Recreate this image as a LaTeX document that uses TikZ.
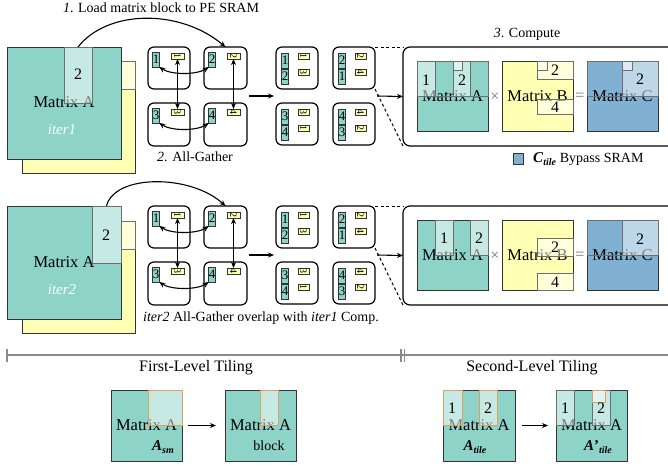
\documentclass[tikz,border=0pt]{standalone}
\usepackage{fontspec}
\setmainfont{Liberation Serif}
\usepackage{graphicx}
\usetikzlibrary{arrows.meta}
\definecolor{mteal}{HTML}{8DD3C7}
\definecolor{myel}{HTML}{FFFFB3}
\definecolor{mblue}{HTML}{80B1D3}
\definecolor{morange}{HTML}{DDA060}
\definecolor{mline}{HTML}{333333}
\definecolor{mgrayline}{HTML}{6E6E6E}
\definecolor{mscale}{HTML}{8A8A8A}
\newcommand\rect[6]{\node[inner sep=0pt,outer sep=0pt,minimum width={(#5)-(#3)},minimum height={(#6)-(#4)},#1] (#2) at ({((#3)+(#5))/2},{((#4)+(#6))/2})}
\newcommand\fs[1]{\fontsize{#1}{#1}\selectfont}
\newcommand\tnum[1]{\fs{13}#1}
\newcommand\ynum[1]{\rotatebox[origin=c]{-90}{\fs{10}#1}}
\newcommand\tealt[4]{\rect{tealtile}{#1}{#2}{#3}{#2+6}{#3+15}{\tnum{#4}};}
\newcommand\yelt[5]{\rect{yeltile}{#1}{#2}{#3}{#2+#4}{#3+6}{\ynum{#5}};}
\tikzset{
  mat/.style={draw=mline, line width=1pt},
  ovl/.style={fill=white, fill opacity=0.5, draw=mgrayline, line width=0.9pt},
  ovlo/.style={fill=white, fill opacity=0.5, draw=morange, line width=1pt},
  half/.style={draw=mgrayline, line width=0.9pt},
  pebox/.style={draw=black, line width=1.2pt, rounded corners=6pt},
  tealtile/.style={fill=mteal, draw=mline, line width=0.8pt},
  yeltile/.style={fill=myel, draw=mline, line width=0.8pt},
  arr/.style={-{Stealth[length=6pt,width=5pt]}, line width=1.1pt},
  darr/.style={{Stealth[length=6pt,width=5pt]}-{Stealth[length=6pt,width=5pt]}, line width=1.1pt},
  captxt/.style={font=\fs{14}, inner sep=0pt},
  lbl/.style={font=\fs{16}, inner sep=0pt},
  mlbl/.style={font=\fs{16.5}, inner sep=0pt},
  opsym/.style={font=\fs{16}, text=black!55, inner sep=0pt},
  dsh/.style={dash pattern=on 3pt off 2.5pt, line width=1pt},
  scl/.style={draw=mscale, line width=1.2pt},
}
\newcommand\pegrids[1]{%
  \rect{pebox}{a1#1}{148}{47}{190}{89}{};
  \rect{pebox}{a2#1}{204}{47}{247}{89}{};
  \rect{pebox}{a3#1}{148}{103}{190}{146}{};
  \rect{pebox}{a4#1}{204}{103}{247}{146}{};
  \tealt{ta1#1}{153}{52}{1}\yelt{ya1#1}{171}{53}{13}{1}
  \tealt{ta2#1}{209}{52}{2}\yelt{ya2#1}{227}{53}{13}{2}
  \tealt{ta3#1}{153}{108}{3}\yelt{ya3#1}{171}{109}{13}{3}
  \tealt{ta4#1}{209}{108}{4}\yelt{ya4#1}{227}{109}{13}{4}
  \draw[darr] (ta1#1.south east) .. controls +(12,8) and +(-12,8) .. (ta2#1.south west);
  \draw[darr] (ta3#1.south east) .. controls +(12,8) and +(-12,8) .. (ta4#1.south west);
  \draw[darr] (ya1#1.south) -- (ya3#1.north);
  \draw[darr] (ya2#1.south) -- (ya4#1.north);
  \coordinate (g1e#1) at (249,96);
  \coordinate (g2w#1) at (274,96);
  \draw[arr] (g1e#1) -- (g2w#1);
  \rect{pebox}{b1#1}{276}{47}{318}{89}{};
  \rect{pebox}{b2#1}{333}{47}{375}{89}{};
  \rect{pebox}{b3#1}{276}{103}{318}{145}{};
  \rect{pebox}{b4#1}{333}{103}{375}{145}{};
  \tealt{tb1a#1}{282}{53}{1}\tealt{tb1b#1}{282}{69}{2}
  \yelt{yb1a#1}{298}{53}{11}{1}\yelt{yb1b#1}{298}{69}{11}{3}
  \tealt{tb2a#1}{339}{53}{2}\tealt{tb2b#1}{339}{69}{1}
  \yelt{yb2a#1}{355}{53}{11}{2}\yelt{yb2b#1}{355}{69}{11}{4}
  \tealt{tb3a#1}{282}{109}{3}\tealt{tb3b#1}{282}{125}{4}
  \yelt{yb3a#1}{298}{109}{11}{3}\yelt{yb3b#1}{298}{125}{11}{1}
  \tealt{tb4a#1}{339}{109}{4}\tealt{tb4b#1}{339}{125}{3}
  \yelt{yb4a#1}{355}{109}{11}{4}\yelt{yb4b#1}{355}{125}{11}{2}
  \rect{pebox,rounded corners=7pt}{panel#1}{403}{47}{700}{146}{};
  \coordinate (g2e#1) at (377,96);
  \draw[arr] (g2e#1) -- (panel#1.west);
  \draw[dsh] (b2#1.north east) -- (panel#1.north west);
  \draw[dsh] (b2#1.south east) -- (panel#1.south west);
}
\begin{document}
\begin{tikzpicture}[x=1pt,y=-1pt]
\useasboundingbox (0,0) rectangle (668,466);
\clip (0,0) rectangle (668,466);
% ---------------- row 1 ----------------
\rect{mat,fill=myel}{yb1}{22}{61}{135}{173}{};
\rect{ovl}{yb1L}{22}{61}{135}{89}{};
\rect{mat,fill=mteal}{ma1}{7}{47}{121}{159}{};
\node[mlbl] (ma1t) at (64,102) {Matrix A};
\node[font=\fs{15}\itshape, text=white, inner sep=0pt] (ma1i) at (62,130) {iter1};
\rect{ovl}{s1}{64}{47}{92}{103}{};
\node[lbl] (s1t) at (78,74) {2};
\pegrids{}
\draw[arr] (s1.north) .. controls +(30,-38) and +(-45,-38) .. (a2.north);
\node[captxt] (c1) at (161,8) {\textit{1}. Load matrix block to PE SRAM};
\node[captxt] (c2) at (195,157) {\textit{2}. All-Gather};
\node[captxt] (c3) at (527,34) {\textit{3}. Compute};
% compute row 1
\rect{mat,fill=mteal}{ca}{417}{61}{488}{131}{\fs{16.5}Matrix A};
\rect{half}{cah}{417}{61}{488}{96}{};
\rect{ovl}{ca1}{417}{61}{435}{96}{};
\rect{ovl}{ca2}{453}{61}{470}{96}{};
\rect{ovl}{ca2s}{453}{61}{462}{70}{};
\node[lbl] (ca1t) at (426,80) {1};
\node[lbl] (ca2t) at (462,80) {2};
\node[opsym] (tm1) at (495,97) {×};
\rect{mat,fill=myel}{cb}{502}{61}{573}{131}{\fs{16.5}Matrix B};
\rect{ovl}{cb2}{537}{61}{573}{79}{};
\rect{ovl}{cb2s}{537}{61}{547}{70}{};
\rect{ovl}{cb4}{537}{99}{573}{114}{};
\node[lbl] (cb2t) at (555,70) {2};
\node[lbl] (cb4t) at (555,107) {4};
\node[opsym] (eq1) at (580,97) {=};
\rect{mat,fill=mblue}{cc}{587}{61}{658}{131}{\fs{16.5}Matrix C};
\rect{half}{cch}{587}{61}{658}{96}{};
\rect{ovl}{cc2}{622}{61}{658}{96}{};
\rect{ovl}{cc2s}{622}{61}{632}{70}{};
\node[lbl] (cc2t) at (640,79) {2};
% legend
\rect{mat,fill=mblue}{leg}{513}{153}{523}{164}{};
\node[anchor=west, inner sep=0pt] (legt) at (533,159) {\fs{15}\textbf{\textit{C}}\raisebox{-3pt}{\fs{10}\textbf{\textit{tile}}} \fs{14}Bypass SRAM};
% ---------------- row 2 ----------------
\begin{scope}[yshift=-159pt]
\rect{mat,fill=myel}{yb2}{22}{62}{135}{174}{};
\rect{ovl}{yb2L}{22}{62}{135}{90}{};
\rect{mat,fill=mteal}{ma2}{7}{47}{121}{160}{};
\node[mlbl] (ma2t) at (64,103) {Matrix A};
\node[font=\fs{15}\itshape, text=white, inner sep=0pt] (ma2i) at (62,131) {iter2};
\rect{ovl}{s2}{92}{47}{121}{104}{};
\node[lbl] (s2t) at (106,76) {2};
\pegrids{r}
\draw[arr] (s2.north) .. controls +(8,-32) and +(-35,-32) .. (a2r.north);
\rect{mat,fill=mteal}{da}{417}{61}{488}{131}{\fs{16.5}Matrix A};
\rect{ovl}{da1}{435}{61}{453}{96}{};
\rect{ovl}{da2}{470}{61}{488}{96}{};
\node[lbl] (da1t) at (444,79) {1};
\node[lbl] (da2t) at (479,79) {2};
\node[opsym] (tm2) at (495,97) {×};
\rect{mat,fill=myel}{db}{502}{61}{573}{131}{\fs{16.5}Matrix B};
\rect{ovl}{db2}{537}{79}{573}{97}{};
\rect{ovl}{db4}{537}{114}{573}{131}{};
\node[lbl] (db2t) at (555,88) {2};
\node[lbl] (db4t) at (555,123) {4};
\node[opsym] (eq2) at (580,97) {=};
\rect{mat,fill=mblue}{dc}{587}{61}{658}{131}{\fs{16.5}Matrix C};
\rect{half}{dch}{587}{61}{658}{96}{};
\rect{ovl}{dc2}{622}{61}{658}{96}{};
\node[lbl] (dc2t) at (640,80) {2};
\end{scope}
\node[captxt] (c4) at (261,318) {\textit{iter2} All-Gather overlap with \textit{iter1} Comp.};
% ---------------- bottom ----------------
\coordinate (sl) at (7,355);
\coordinate (sr) at (668,355);
\draw[scl] (sl) -- (sr);
\draw[scl] (7,348.5) -- (7,361.5);
\draw[scl] (401,348.5) -- (401,361.5);
\draw[scl] (404.5,348.5) -- (404.5,361.5);
\node[font=\fs{16}, inner sep=0pt] (fl) at (196,368) {First-Level Tiling};
\node[font=\fs{16}, inner sep=0pt] (sl2) at (532,368) {Second-Level Tiling};
\rect{mat,fill=mteal}{m1}{111}{390}{182}{461}{\fs{16.5}Matrix A};
\rect{ovlo}{m1o}{148}{390}{182}{425}{};
\node[inner sep=0pt] (m1l) at (163,447) {\fs{15}\textbf{\textit{A}}\raisebox{-3pt}{\fs{10}\textbf{\textit{sm}}}};
\rect{mat,fill=mteal}{m2}{225}{390}{296}{461}{\fs{16.5}Matrix A};
\rect{ovlo}{m2o}{260}{390}{278}{425}{};
\node[font=\fs{14}, inner sep=0pt] (m2l) at (269,446) {block};
\draw[arr, shorten <=6pt, shorten >=9pt] (m1.east) -- (m2.west);
\rect{mat,fill=mteal}{m3}{443}{390}{515}{461}{\fs{16.5}Matrix A};
\rect{ovlo}{m3a}{443}{390}{462}{425}{};
\rect{ovlo}{m3b}{479}{390}{497}{425}{};
\node[lbl] (m3at) at (452,408) {1};
\node[lbl] (m3bt) at (488,408) {2};
\node[inner sep=0pt] (m3l) at (475,447) {\fs{15}\textbf{\textit{A}}\raisebox{-3pt}{\fs{10}\textbf{\textit{tile}}}};
\rect{mat,fill=mteal}{m4}{556}{390}{627}{461}{\fs{16.5}Matrix A};
\rect{ovl}{m4a}{556}{390}{574}{425}{};
\rect{ovl}{m4b}{592}{390}{610}{425}{};
\rect{ovlo}{m4s}{592}{390}{605}{402}{};
\node[lbl] (m4at) at (565,408) {1};
\node[lbl] (m4bt) at (601,408) {2};
\node[inner sep=0pt] (m4l) at (598,447) {\fs{15}\textbf{\textit{A}}\textbf{'}\raisebox{-3pt}{\fs{10}\textbf{\textit{tile}}}};
\draw[arr, shorten <=7pt, shorten >=8pt] (m3.east) -- (m4.west);
\end{tikzpicture}
\end{document}
